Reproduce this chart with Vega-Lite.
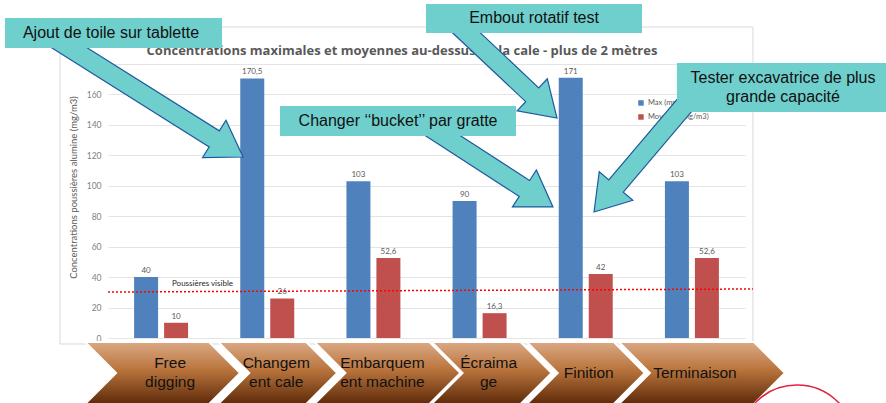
{
  "$schema": "https://vega.github.io/schema/vega-lite/v6.json",
  "width": 637,
  "height": 274,
  "autosize": {"type": "none"},
  "padding": {"left": 108, "top": 64, "right": 141, "bottom": 65},
  "background": "white",
  "config": {
    "view": {"stroke": null},
    "locale": {"number": {"decimal": ",", "thousands": " ", "grouping": [3], "currency": ["", " €"]}}
  },
  "datasets": {
    "bars": [
      {"phase": "Free digging", "serie": "Max (mg/m3)", "value": 40},
      {"phase": "Free digging", "serie": "Moyenne (mg/m3)", "value": 10},
      {"phase": "Changement cale", "serie": "Max (mg/m3)", "value": 170.5},
      {"phase": "Changement cale", "serie": "Moyenne (mg/m3)", "value": 26},
      {"phase": "Embarquement machine", "serie": "Max (mg/m3)", "value": 103},
      {"phase": "Embarquement machine", "serie": "Moyenne (mg/m3)", "value": 52.6},
      {"phase": "Écraimage", "serie": "Max (mg/m3)", "value": 90},
      {"phase": "Écraimage", "serie": "Moyenne (mg/m3)", "value": 16.3},
      {"phase": "Finition", "serie": "Max (mg/m3)", "value": 171},
      {"phase": "Finition", "serie": "Moyenne (mg/m3)", "value": 42},
      {"phase": "Terminaison", "serie": "Max (mg/m3)", "value": 103},
      {"phase": "Terminaison", "serie": "Moyenne (mg/m3)", "value": 52.6}
    ],
    "phases": [
      {"phase": "Free digging", "label": "Free\ndigging"},
      {"phase": "Changement cale", "label": "Changem\nent cale"},
      {"phase": "Embarquement machine", "label": "Embarquem\nent machine"},
      {"phase": "Écraimage", "label": "Écraima\nge"},
      {"phase": "Finition", "label": "Finition"},
      {"phase": "Terminaison", "label": "Terminaison"}
    ],
    "one": [{}]
  },
  "resolve": {"scale": {"x": "independent", "y": "independent"}},
  "layer": [
    {
      "data": {"name": "one"},
      "mark": {"type": "rect", "fillOpacity": 0, "stroke": "#D9D9D9", "strokeWidth": 1},
      "encoding": {
        "x": {"datum": -0.952, "type": "quantitative", "scale": {"domain": [-0.5, 5.5], "nice": false, "zero": false}, "axis": null},
        "x2": {"datum": 5.575},
        "y": {"datum": -3.94, "type": "quantitative", "scale": {"domain": [0, 180], "nice": false, "zero": false}, "axis": null},
        "y2": {"datum": 204.3}
      }
    },
    {
      "data": {"name": "bars"},
      "mark": {"type": "bar"},
      "encoding": {
        "x": {"field": "phase", "type": "nominal", "scale": {"domain": ["Free digging", "Changement cale", "Embarquement machine", "Écraimage", "Finition", "Terminaison"], "paddingInner": 0, "paddingOuter": 0}, "axis": null},
        "xOffset": {"field": "serie", "type": "nominal", "scale": {"domain": ["Max (mg/m3)", "Moyenne (mg/m3)"], "paddingInner": 0.2, "paddingOuter": 0.87}},
        "y": {"field": "value", "type": "quantitative", "scale": {"domain": [0, 180], "nice": false, "zero": false},
          "axis": {"values": [0, 20, 40, 60, 80, 100, 120, 140, 160, 180], "format": "d", "title": "Concentrations poussières alumine (mg/m3)", "grid": true, "gridColor": "#E4E4E4", "domain": false, "ticks": false, "labelColor": "#7F7F7F", "labelFont": "Lato", "labelFontSize": 8.5, "labelPadding": 7, "titleFont": "Lato", "titleFontSize": 9.5, "titleFontWeight": "normal", "titleColor": "#595959", "titlePadding": 8, "titleY": 123}},
        "color": {"field": "serie", "type": "nominal", "scale": {"domain": ["Max (mg/m3)", "Moyenne (mg/m3)"], "range": ["#4F81BD", "#C0504D"]}, "legend": null}
      }
    },
    {
      "data": {"name": "one"},
      "mark": {"type": "text", "text": "Concentrations maximales et moyennes au-dessus de la cale - plus de 2 mètres", "font": "Open Sans", "fontSize": 13, "fontWeight": "bold", "color": "#595959", "align": "center", "baseline": "middle"},
      "encoding": {
        "x": {"datum": 2.269, "type": "quantitative", "scale": {"domain": [-0.5, 5.5], "nice": false, "zero": false}, "axis": null},
        "y": {"datum": 188.5, "type": "quantitative", "scale": {"domain": [0, 180], "nice": false, "zero": false}, "axis": null}
      }
    },
    {
      "data": {"name": "bars"},
      "mark": {"type": "text", "font": "Lato", "fontSize": 8, "color": "#595959", "baseline": "alphabetic", "dy": -4},
      "encoding": {
        "x": {"field": "phase", "type": "nominal", "scale": {"domain": ["Free digging", "Changement cale", "Embarquement machine", "Écraimage", "Finition", "Terminaison"], "paddingInner": 0, "paddingOuter": 0}, "axis": null},
        "xOffset": {"field": "serie", "type": "nominal", "scale": {"domain": ["Max (mg/m3)", "Moyenne (mg/m3)"], "paddingInner": 0.2, "paddingOuter": 0.87}},
        "y": {"field": "value", "type": "quantitative", "scale": {"domain": [0, 180], "nice": false, "zero": false}, "axis": null},
        "text": {"field": "value", "type": "quantitative", "format": "~g"}
      }
    },
    {
      "data": {"name": "one"},
      "mark": {"type": "rule", "color": "#FF0000", "strokeDash": [2, 2], "strokeWidth": 1.5},
      "encoding": {
        "x": {"datum": -0.5, "type": "quantitative", "scale": {"domain": [-0.5, 5.5], "nice": false, "zero": false}, "axis": null},
        "x2": {"datum": 5.575},
        "y": {"datum": 30.2, "type": "quantitative", "scale": {"domain": [0, 180], "nice": false, "zero": false}, "axis": null},
        "y2": {"datum": 32.2}
      }
    },
    {
      "data": {"name": "one"},
      "mark": {"type": "text", "text": "Poussières visible", "font": "Lato", "fontSize": 8, "color": "#262626", "align": "left", "baseline": "middle"},
      "encoding": {
        "x": {"datum": 0.103, "type": "quantitative", "scale": {"domain": [-0.5, 5.5], "nice": false, "zero": false}, "axis": null},
        "y": {"datum": 35.5, "type": "quantitative", "scale": {"domain": [0, 180], "nice": false, "zero": false}, "axis": null}
      }
    },
    {
      "data": {"name": "one"},
      "mark": {"type": "point", "shape": "square", "size": 30, "filled": true, "opacity": 1, "color": "#4F81BD"},
      "encoding": {
        "x": {"datum": 4.52, "type": "quantitative", "scale": {"domain": [-0.5, 5.5], "nice": false, "zero": false}, "axis": null},
        "y": {"datum": 154.4, "type": "quantitative", "scale": {"domain": [0, 180], "nice": false, "zero": false}, "axis": null}
      }
    },
    {
      "data": {"name": "one"},
      "mark": {"type": "point", "shape": "square", "size": 30, "filled": true, "opacity": 1, "color": "#C0504D"},
      "encoding": {
        "x": {"datum": 4.52, "type": "quantitative", "scale": {"domain": [-0.5, 5.5], "nice": false, "zero": false}, "axis": null},
        "y": {"datum": 145.2, "type": "quantitative", "scale": {"domain": [0, 180], "nice": false, "zero": false}, "axis": null}
      }
    },
    {
      "data": {"name": "one"},
      "mark": {"type": "text", "text": "Max (mg/m3)", "font": "Lato", "fontSize": 7.5, "color": "#595959", "align": "left", "baseline": "middle"},
      "encoding": {
        "x": {"datum": 4.586, "type": "quantitative", "scale": {"domain": [-0.5, 5.5], "nice": false, "zero": false}, "axis": null},
        "y": {"datum": 154.4, "type": "quantitative", "scale": {"domain": [0, 180], "nice": false, "zero": false}, "axis": null}
      }
    },
    {
      "data": {"name": "one"},
      "mark": {"type": "text", "text": "Moyenne (mg/m3)", "font": "Lato", "fontSize": 7.5, "color": "#595959", "align": "left", "baseline": "middle"},
      "encoding": {
        "x": {"datum": 4.586, "type": "quantitative", "scale": {"domain": [-0.5, 5.5], "nice": false, "zero": false}, "axis": null},
        "y": {"datum": 145.2, "type": "quantitative", "scale": {"domain": [0, 180], "nice": false, "zero": false}, "axis": null}
      }
    },
    {
      "data": {"name": "phases"},
      "mark": {"type": "point", "size": 4, "filled": true, "opacity": 1, "stroke": "white", "strokeWidth": 2,
        "fill": {"gradient": "linear", "x1": 0, "y1": 0, "x2": 0, "y2": 1, "stops": [{"offset": 0, "color": "#DBA985"}, {"offset": 0.45, "color": "#B9743C"}, {"offset": 1, "color": "#5E2A0A"}]}},
      "encoding": {
        "x": {"field": "phase", "type": "nominal", "scale": {"domain": ["Free digging", "Changement cale", "Embarquement machine", "Écraimage", "Finition", "Terminaison"], "paddingInner": 0, "paddingOuter": 0}, "axis": null},
        "y": {"datum": -22.99, "type": "quantitative", "scale": {"domain": [0, 180], "nice": false, "zero": false}, "axis": null},
        "shape": {"field": "phase", "type": "nominal", "legend": null, "scale": {"domain": ["Free digging", "Changement cale", "Embarquement machine", "Écraimage", "Finition", "Terminaison"], "range": [
          "M -76 -31 L 48 -31 L 79 0 L 48 31 L -76 31 L -45 0 Z",
          "M -49 -31 L 39 -31 L 70 0 L 39 31 L -49 31 L -18 0 Z",
          "M -59 -31 L 56 -31 L 87 0 L 56 31 L -59 31 L -28 0 Z",
          "M -48 -31 L 41 -31 L 72 0 L 41 31 L -48 31 L -17 0 Z",
          "M -59 -31 L 28 -31 L 59 0 L 28 31 L -59 31 L -28 0 Z",
          "M -73 -31 L 62 -31 L 93 0 L 62 31 L -73 31 L -42 0 Z"]}}
      }
    },
    {
      "data": {"name": "phases"},
      "transform": [{"filter": "indexof(datum.label, '\\n') >= 0"}],
      "mark": {"type": "text", "font": "Liberation Sans", "fontSize": 15.5, "color": "#111111", "align": "center", "baseline": "middle", "lineBreak": "\n", "lineHeight": 19, "dx": 9, "dy": -9.5},
      "encoding": {
        "x": {"field": "phase", "type": "nominal", "scale": {"domain": ["Free digging", "Changement cale", "Embarquement machine", "Écraimage", "Finition", "Terminaison"], "paddingInner": 0, "paddingOuter": 0}, "axis": null},
        "y": {"datum": -22.99, "type": "quantitative", "scale": {"domain": [0, 180], "nice": false, "zero": false}, "axis": null},
        "text": {"field": "label", "type": "nominal"}
      }
    },
    {
      "data": {"name": "phases"},
      "transform": [{"filter": "indexof(datum.label, '\\n') < 0"}],
      "mark": {"type": "text", "font": "Liberation Sans", "fontSize": 15.5, "color": "#111111", "align": "center", "baseline": "middle", "dx": 3},
      "encoding": {
        "x": {"field": "phase", "type": "nominal", "scale": {"domain": ["Free digging", "Changement cale", "Embarquement machine", "Écraimage", "Finition", "Terminaison"], "paddingInner": 0, "paddingOuter": 0}, "axis": null},
        "y": {"datum": -22.99, "type": "quantitative", "scale": {"domain": [0, 180], "nice": false, "zero": false}, "axis": null},
        "text": {"field": "label", "type": "nominal"}
      }
    },
    {
      "data": {"name": "one"},
      "mark": {"type": "point", "size": 4, "filled": true, "opacity": 1, "fill": "#6FCFCD", "stroke": "#2158A0", "strokeWidth": 1.2,
        "shape": "M -191.06 -108.96 L -33.84 -10.07 L -40.5 0.52 L 0 0 L -17.07 -36.74 L -23.72 -26.15 L -180.94 -125.04 Z"},
      "encoding": {
        "x": {"datum": 0.772, "type": "quantitative", "scale": {"domain": [-0.5, 5.5], "nice": false, "zero": false}, "axis": null},
        "y": {"datum": 118.9, "type": "quantitative", "scale": {"domain": [0, 180], "nice": false, "zero": false}, "axis": null}
      }
    },
    {
      "data": {"name": "one"},
      "mark": {"type": "point", "size": 4, "filled": true, "opacity": 1, "fill": "#6FCFCD", "stroke": "#2158A0", "strokeWidth": 1.2,
        "shape": "M -108.51 -89.08 L -31.27 -16.38 L -39.84 -7.28 L 0 0 L -9.68 -39.32 L -18.25 -30.22 L -95.49 -102.92 Z"},
      "encoding": {
        "x": {"datum": 3.729, "type": "quantitative", "scale": {"domain": [-0.5, 5.5], "nice": false, "zero": false}, "axis": null},
        "y": {"datum": 144.5, "type": "quantitative", "scale": {"domain": [0, 180], "nice": false, "zero": false}, "axis": null}
      }
    },
    {
      "data": {"name": "one"},
      "mark": {"type": "point", "size": 4, "filled": true, "opacity": 1, "fill": "#6FCFCD", "stroke": "#2158A0", "strokeWidth": 1.2,
        "shape": "M 83.46 -113.15 L 14.75 -32.09 L 5.21 -40.17 L 0 0 L 38.79 -11.71 L 29.25 -19.79 L 97.96 -100.85 Z"},
      "encoding": {
        "x": {"datum": 4.078, "type": "quantitative", "scale": {"domain": [-0.5, 5.5], "nice": false, "zero": false}, "axis": null},
        "y": {"datum": 82.8, "type": "quantitative", "scale": {"domain": [0, 180], "nice": false, "zero": false}, "axis": null}
      }
    },
    {
      "data": {"name": "one"},
      "mark": {"type": "point", "size": 4, "filled": true, "opacity": 1, "fill": "#6FCFCD", "stroke": "#2158A0", "strokeWidth": 1.2,
        "shape": "M -127.07 -71.03 L -33.7 -10.52 L -40.5 -0.03 L 0 0 L -16.56 -36.95 L -23.36 -26.46 L -116.73 -86.97 Z"},
      "encoding": {
        "x": {"datum": 3.691, "type": "quantitative", "scale": {"domain": [-0.5, 5.5], "nice": false, "zero": false}, "axis": null},
        "y": {"datum": 86.1, "type": "quantitative", "scale": {"domain": [0, 180], "nice": false, "zero": false}, "axis": null}
      }
    },
    {
      "data": {"name": "one"},
      "mark": {"type": "rect", "color": "#6FCFCD"},
      "encoding": {
        "x": {"datum": -1.47, "type": "quantitative", "scale": {"domain": [-0.5, 5.5], "nice": false, "zero": false}, "axis": null},
        "x2": {"datum": 0.574},
        "y": {"datum": 190.5, "type": "quantitative", "scale": {"domain": [0, 180], "nice": false, "zero": false}, "axis": null},
        "y2": {"datum": 210.2}
      }
    },
    {
      "data": {"name": "one"},
      "mark": {"type": "rect", "color": "#6FCFCD"},
      "encoding": {
        "x": {"datum": 2.495, "type": "quantitative", "scale": {"domain": [-0.5, 5.5], "nice": false, "zero": false}, "axis": null},
        "x2": {"datum": 4.53},
        "y": {"datum": 200.4, "type": "quantitative", "scale": {"domain": [0, 180], "nice": false, "zero": false}, "axis": null},
        "y2": {"datum": 219.4}
      }
    },
    {
      "data": {"name": "one"},
      "mark": {"type": "rect", "color": "#6FCFCD"},
      "encoding": {
        "x": {"datum": 4.859, "type": "quantitative", "scale": {"domain": [-0.5, 5.5], "nice": false, "zero": false}, "axis": null},
        "x2": {"datum": 6.9},
        "y": {"datum": 148.5, "type": "quantitative", "scale": {"domain": [0, 180], "nice": false, "zero": false}, "axis": null},
        "y2": {"datum": 180.7}
      }
    },
    {
      "data": {"name": "one"},
      "mark": {"type": "rect", "color": "#6FCFCD"},
      "encoding": {
        "x": {"datum": 1.12, "type": "quantitative", "scale": {"domain": [-0.5, 5.5], "nice": false, "zero": false}, "axis": null},
        "x2": {"datum": 3.343},
        "y": {"datum": 132.7, "type": "quantitative", "scale": {"domain": [0, 180], "nice": false, "zero": false}, "axis": null},
        "y2": {"datum": 152.4}
      }
    },
    {
      "data": {"name": "one"},
      "mark": {"type": "text", "text": "Ajout de toile sur tablette", "font": "Liberation Sans", "fontSize": 16, "color": "#111111", "align": "center", "baseline": "middle"},
      "encoding": {
        "x": {"datum": -0.472, "type": "quantitative", "scale": {"domain": [-0.5, 5.5], "nice": false, "zero": false}, "axis": null},
        "y": {"datum": 200.4, "type": "quantitative", "scale": {"domain": [0, 180], "nice": false, "zero": false}, "axis": null}
      }
    },
    {
      "data": {"name": "one"},
      "mark": {"type": "text", "text": "Embout rotatif test", "font": "Liberation Sans", "fontSize": 16, "color": "#111111", "align": "center", "baseline": "middle"},
      "encoding": {
        "x": {"datum": 3.513, "type": "quantitative", "scale": {"domain": [-0.5, 5.5], "nice": false, "zero": false}, "axis": null},
        "y": {"datum": 209.9, "type": "quantitative", "scale": {"domain": [0, 180], "nice": false, "zero": false}, "axis": null}
      }
    },
    {
      "data": {"name": "one"},
      "mark": {"type": "text", "text": ["Tester excavatrice de plus", "grande capacité"], "font": "Liberation Sans", "fontSize": 16, "color": "#111111", "align": "center", "baseline": "middle", "lineHeight": 19},
      "encoding": {
        "x": {"datum": 5.858, "type": "quantitative", "scale": {"domain": [-0.5, 5.5], "nice": false, "zero": false}, "axis": null},
        "y": {"datum": 170.8, "type": "quantitative", "scale": {"domain": [0, 180], "nice": false, "zero": false}, "axis": null}
      }
    },
    {
      "data": {"name": "one"},
      "mark": {"type": "text", "text": "Changer ‘‘bucket’’ par gratte", "font": "Liberation Sans", "fontSize": 16, "color": "#111111", "align": "center", "baseline": "middle"},
      "encoding": {
        "x": {"datum": 2.232, "type": "quantitative", "scale": {"domain": [-0.5, 5.5], "nice": false, "zero": false}, "axis": null},
        "y": {"datum": 142.6, "type": "quantitative", "scale": {"domain": [0, 180], "nice": false, "zero": false}, "axis": null}
      }
    },
    {
      "data": {"name": "one"},
      "mark": {"type": "point", "shape": "circle", "size": 13456, "filled": false, "opacity": 1, "stroke": "#E0213F", "strokeWidth": 1.5},
      "encoding": {
        "x": {"datum": 5.99, "type": "quantitative", "scale": {"domain": [-0.5, 5.5], "nice": false, "zero": false}, "axis": null},
        "y": {"datum": -69, "type": "quantitative", "scale": {"domain": [0, 180], "nice": false, "zero": false}, "axis": null}
      }
    }
  ]
}
